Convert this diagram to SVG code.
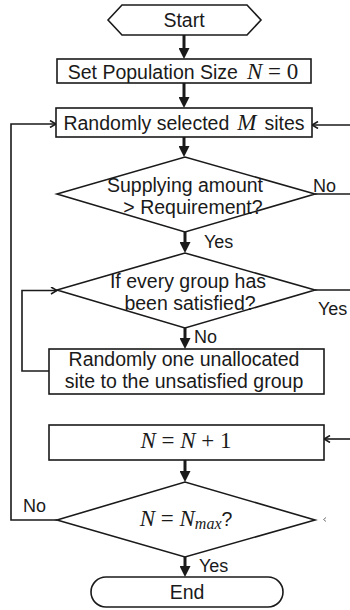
<svg xmlns="http://www.w3.org/2000/svg" width="350" height="610" viewBox="0 0 350 610">
  <defs>
    <style>
      .shape { fill: #fff; stroke: #1a1a1a; stroke-width: 1.6; }
      .txt { font-family: "Liberation Sans", Arial, sans-serif; font-size: 19.5px; fill: #1a1a1a; text-anchor: middle; }
      .lbl { font-family: "Liberation Sans", Arial, sans-serif; font-size: 18px; fill: #1a1a1a; }
      .math { font-family: "Liberation Serif", serif; font-size: 23px; }
      .var { font-style: italic; }
      .flow { fill: none; stroke: #1a1a1a; stroke-width: 3; }
      .link { fill: none; stroke: #1a1a1a; stroke-width: 1.6; }
    </style>
    <marker id="head" markerUnits="userSpaceOnUse" viewBox="0 0 11 11" refX="4" refY="5.5" markerWidth="11" markerHeight="11" orient="auto">
      <path d="M0,0 L11,5.5 L0,11 z" fill="#1a1a1a"/>
    </marker>
    <marker id="open" markerUnits="userSpaceOnUse" viewBox="0 0 8 8" refX="7" refY="4" markerWidth="8" markerHeight="8" orient="auto">
      <path d="M1,0.5 L7,4 L1,7.5" fill="none" stroke="#1a1a1a" stroke-width="1.6"/>
    </marker>
  </defs>

  <!-- connectors -->
  <g id="connectors">
    <line class="flow" x1="184" y1="35" x2="184" y2="52" marker-end="url(#head)"/>
    <line class="flow" x1="184" y1="83" x2="184" y2="101" marker-end="url(#head)"/>
    <line class="flow" x1="184" y1="137" x2="184" y2="150" marker-end="url(#head)"/>
    <line class="flow" x1="185" y1="232" x2="185" y2="246" marker-end="url(#head)"/>
    <line class="flow" x1="185" y1="328" x2="185" y2="342" marker-end="url(#head)"/>
    <line class="flow" x1="185" y1="460" x2="185" y2="475" marker-end="url(#head)"/>
    <line class="flow" x1="185" y1="557" x2="185" y2="570" marker-end="url(#head)"/>
    <!-- supply check: No exits right -->
    <line class="link" x1="315" y1="194" x2="350" y2="194"/>
    <!-- re-entry into site selection from the right -->
    <line class="link" x1="350" y1="125" x2="312" y2="125" marker-end="url(#open)"/>
    <!-- group check: Yes exits right -->
    <line class="link" x1="315" y1="290" x2="350" y2="290"/>
    <!-- re-entry into counter increment -->
    <line class="link" x1="350" y1="439" x2="324" y2="439" marker-end="url(#open)"/>
    <!-- allocation loop back to group check -->
    <polyline class="link" points="49,371 22,371 22,290.5 57,290.5" marker-end="url(#open)"/>
    <!-- No branch back to site selection -->
    <polyline class="link" points="57,520 11,520 11,124 56,124" marker-end="url(#open)"/>
    <!-- stub mark right of the final check -->
    <path d="M326,517.5 L323.5,519.5 L326,521.5" fill="none" stroke="#777" stroke-width="1"/>
  </g>

  <g id="start">
    <polygon class="shape" points="108,20 122,5 247,5 261,20 247,35 122,35"/>
    <text class="txt" x="184" y="27">Start</text>
  </g>

  <g id="init">
    <rect class="shape" x="57" y="59" width="254" height="24"/>
    <text class="txt" x="183" y="79">Set Population Size<tspan class="math var" dx="9">N</tspan><tspan class="math"> = 0</tspan></text>
  </g>

  <g id="select">
    <rect class="shape" x="56" y="108" width="256" height="29"/>
    <text class="txt" x="184" y="130">Randomly selected<tspan class="math var" dx="8">M</tspan><tspan dx="8">sites</tspan></text>
  </g>

  <g id="supply-check">
    <polygon class="shape" points="57,194 185,157 315,194 185,232"/>
    <text class="txt"><tspan x="185" y="192">Supplying amount</tspan><tspan x="193" y="214">&gt; Requirement?</tspan></text>
  </g>

  <g id="group-check">
    <polygon class="shape" points="57,290 185,253 315,290 185,328"/>
    <text class="txt"><tspan x="188" y="288">If every group has</tspan><tspan x="190" y="310">been satisfied?</tspan></text>
  </g>

  <g id="allocate">
    <rect class="shape" x="49" y="349" width="275" height="45"/>
    <text class="txt"><tspan x="184" y="366">Randomly one unallocated</tspan><tspan x="184" y="388">site to the unsatisfied group</tspan></text>
  </g>

  <g id="increment">
    <rect class="shape" x="49" y="425" width="275" height="35"/>
    <text class="txt math" x="186" y="448"><tspan class="var">N</tspan> = <tspan class="var">N</tspan> + 1</text>
  </g>

  <g id="max-check">
    <polygon class="shape" points="57,520 185,482 315,520 185,557"/>
    <text class="txt math" x="186" y="526"><tspan class="var">N</tspan> = <tspan class="var">N</tspan><tspan class="var" font-size="16" dy="3">max</tspan><tspan font-family="Liberation Sans, sans-serif" font-size="19.5" dy="-3">?</tspan></text>
  </g>

  <g id="end">
    <rect class="shape" x="91" y="577" width="192" height="30" rx="15"/>
    <text class="txt" x="187" y="599">End</text>
  </g>

  <!-- branch labels -->
  <g id="labels">
    <text class="lbl" x="313" y="192">No</text>
    <text class="lbl" x="204" y="248">Yes</text>
    <text class="lbl" x="318" y="315">Yes</text>
    <text class="lbl" x="194" y="343">No</text>
    <text class="lbl" x="23" y="512">No</text>
    <text class="lbl" x="199" y="572">Yes</text>
  </g>
</svg>
